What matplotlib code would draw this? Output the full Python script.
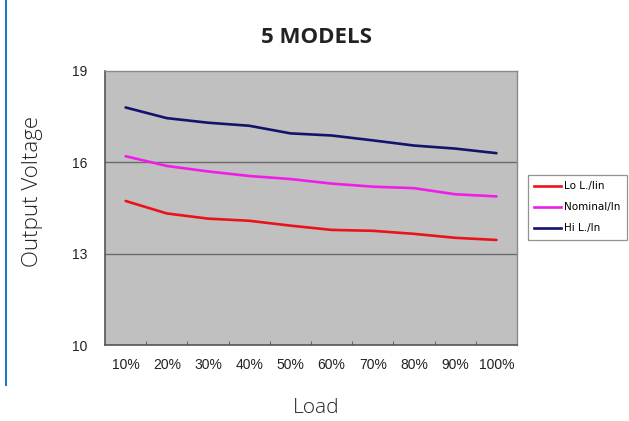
import matplotlib.pyplot as plt
from matplotlib.lines import Line2D
import numpy as np

loads = ["10%", "20%", "30%", "40%", "50%", "60%", "70%", "80%", "90%", "100%"]
hi_line = [17.80, 17.45, 17.30, 17.20, 16.95, 16.88, 16.72, 16.55, 16.45, 16.30]
nominal = [16.20, 15.88, 15.70, 15.55, 15.45, 15.30, 15.20, 15.15, 14.95, 14.88]
lo_line = [14.73, 14.32, 14.15, 14.08, 13.92, 13.78, 13.75, 13.65, 13.52, 13.45]
y_ticks = [10, 13, 16, 19]

series = [
    ("Lo L./lin", lo_line, "#e8141b"),
    ("Nominal/ln", nominal, "#ee1ee8"),
    ("Hi L./ln", hi_line, "#13136e"),
]

fig = plt.figure(figsize=(6.29, 4.21), dpi=100)
ax = fig.add_axes([0.167, 0.1805, 0.655, 0.651])
ax.set_facecolor("#c0c0c0")

x = np.arange(len(loads))
for label, values, color in series:
    ax.plot(x, values, color=color, lw=1.9, label=label, solid_capstyle="round")

ax.set_xlim(-0.5, len(loads) - 0.5)
ax.set_ylim(10, 19)
ax.set_yticks(y_ticks)
ax.set_yticklabels([str(v) for v in y_ticks], fontsize=10, family="Liberation Sans", color="#222222")
ax.tick_params(axis="y", length=0, pad=13)

# category labels centred, tick marks on the boundaries between categories
ax.set_xticks(x)
ax.set_xticklabels(loads, fontsize=10, family="Liberation Sans", color="#222222")
ax.tick_params(axis="x", which="major", length=0, pad=9)
ax.set_xticks(np.arange(0.5, len(loads) - 1, 1), minor=True)
ax.tick_params(axis="x", which="minor", direction="in", length=3, color="#555555")

for v in [13, 16]:
    ax.axhline(v, color="#6a6a6a", lw=1.0, zorder=1)

for side in ["top", "right"]:
    ax.spines[side].set_color("#8a8a8a")
    ax.spines[side].set_linewidth(1.0)
for side in ["left", "bottom"]:
    ax.spines[side].set_color("#555555")
    ax.spines[side].set_linewidth(1.2)

fig.text(0.503, 0.912, "5 MODELS", ha="center", va="center",
         fontsize=16, fontweight="bold", family="Open Sans", color="#222222")
fig.text(0.052, 0.544, "Output Voltage", ha="center", va="center", rotation=90,
         fontsize=16, fontweight="light", family="Open Sans", color="#222222")
fig.text(0.503, 0.03, "Load", ha="center", va="center",
         fontsize=15, fontweight="light", family="Open Sans", color="#222222")

handles = [Line2D([], [], color=c, lw=1.9) for _, _, c in series]
leg = fig.legend(handles, [s[0] for s in series], loc="upper left",
                 bbox_to_anchor=(0.839, 0.584), frameon=True, fancybox=False,
                 prop={"family": "Liberation Sans Narrow", "size": 7.5},
                 handlelength=2.6, handletextpad=0.3, labelspacing=1.05,
                 borderpad=0.6, borderaxespad=0)
leg.get_frame().set_edgecolor("#777777")
leg.get_frame().set_linewidth(0.9)

# blue rule down the left edge
fig.add_artist(Line2D([0.0095, 0.0095], [0.085, 1.0], color="#1a75c9", lw=1.4,
                      transform=fig.transFigure))

fig.savefig("out.png", dpi=100)
